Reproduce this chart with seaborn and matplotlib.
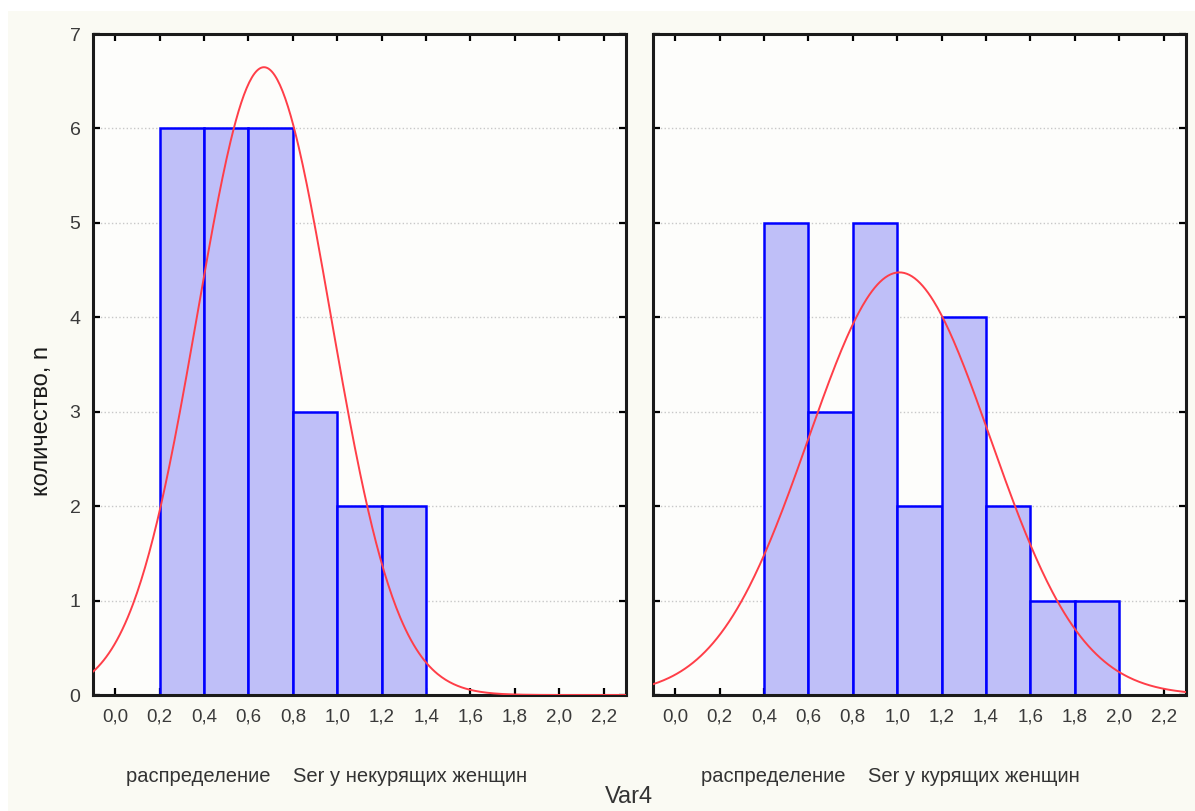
import numpy as np
import pandas as pd
import seaborn as sns
import matplotlib.pyplot as plt
from matplotlib.patches import Rectangle

# histogram bins (Ser), counts
edges_nonsmoke = [0.2, 0.4, 0.6, 0.8, 1.0, 1.2, 1.4]
counts_nonsmoke = [6, 6, 6, 3, 2, 2]
edges_smoke = [0.4, 0.6, 0.8, 1.0, 1.2, 1.4, 1.6, 1.8, 2.0]
counts_smoke = [5, 3, 5, 2, 4, 2, 1, 1]

# fitted normal curves (mean, sd)
fit_nonsmoke = (0.67, 0.30)
fit_smoke = (1.01, 0.41)

xticks = [0.0, 0.2, 0.4, 0.6, 0.8, 1.0, 1.2, 1.4, 1.6, 1.8, 2.0, 2.2]
yticks = [0, 1, 2, 3, 4, 5, 6, 7]
titles = ["распределение    Ser у некурящих женщин",
          "распределение    Ser у курящих женщин"]
ylabel = "количество, n"
xlabel = "Var4"

sns.set_style("ticks")
plt.rcParams['font.family'] = ['Liberation Sans', 'DejaVu Sans']

bg = '#fafaf3'
fig = plt.figure(figsize=(11.95, 8.11), dpi=100, facecolor=bg)
# white margin strips of the screenshot
fig.add_artist(Rectangle((0, 0.987), 1, 0.013, transform=fig.transFigure,
                         facecolor='white', edgecolor='none', zorder=0))
fig.add_artist(Rectangle((0, 0), 0.007, 1, transform=fig.transFigure,
                         facecolor='white', edgecolor='none', zorder=0))

ax1 = fig.add_axes([0.0778, 0.143, 0.446, 0.815])
ax2 = fig.add_axes([0.5464, 0.143, 0.446, 0.815])

panels = [(ax1, edges_nonsmoke, counts_nonsmoke, fit_nonsmoke),
          (ax2, edges_smoke, counts_smoke, fit_smoke)]

for i, (ax, edges, counts, fit) in enumerate(panels):
    ax.set_facecolor('#fdfdfb')
    mids = [(a + b) / 2 for a, b in zip(edges[:-1], edges[1:])]
    df = pd.DataFrame({'x': mids, 'n': counts})
    sns.histplot(data=df, x='x', weights='n', bins=edges, ax=ax,
                 color='#bfbff8', edgecolor='#0000ff', alpha=1,
                 linewidth=1.8, zorder=2)

    # normal curve scaled to counts
    mu, sd = fit
    bw = edges[1] - edges[0]
    xs = np.linspace(-0.1, 2.3, 400)
    ys = sum(counts) * bw * np.exp(-(xs - mu) ** 2 / (2 * sd ** 2)) / (sd * np.sqrt(2 * np.pi))
    sns.lineplot(x=xs, y=ys, ax=ax, color='#ff3e48', linewidth=1.4, zorder=3)

    ax.set_xlim(-0.1, 2.3)
    ax.set_ylim(0, 7)
    ax.set_xticks(xticks)
    ax.set_xticklabels([f"{t:.1f}".replace('.', ',') for t in xticks])
    ax.set_yticks(yticks)
    ax.yaxis.grid(True, linestyle=':', color='#c8c8c8', linewidth=1.0)
    ax.set_axisbelow(True)
    ax.tick_params(direction='in', length=5, width=1.6, top=True, right=True,
                   colors='black', labelcolor='#3a3a3a', labelsize=13.5)
    ax.tick_params(axis='x', pad=10)
    ax.tick_params(axis='y', pad=9, labelsize=14)
    for sp in ax.spines.values():
        sp.set_visible(True)
        sp.set_linewidth(2.2)
        sp.set_color('#1a1a1a')
    ax.set_xlabel('')
    ax.set_ylabel('')
    if i == 1:
        ax.set_yticklabels([])

fig.text(0.035, 0.481, ylabel, rotation=90, ha='center', va='center',
         fontsize=17, color='#1a1a1a')
fig.text(0.2736, 0.043, titles[0], ha='center', va='center', fontsize=14.5, color='#333333')
fig.text(0.745, 0.043, titles[1], ha='center', va='center', fontsize=14.5, color='#333333')
fig.text(0.526, 0.004, xlabel, ha='center', va='bottom', fontsize=17, color='#333333')

fig.savefig('out.png', dpi=100, facecolor=bg)
